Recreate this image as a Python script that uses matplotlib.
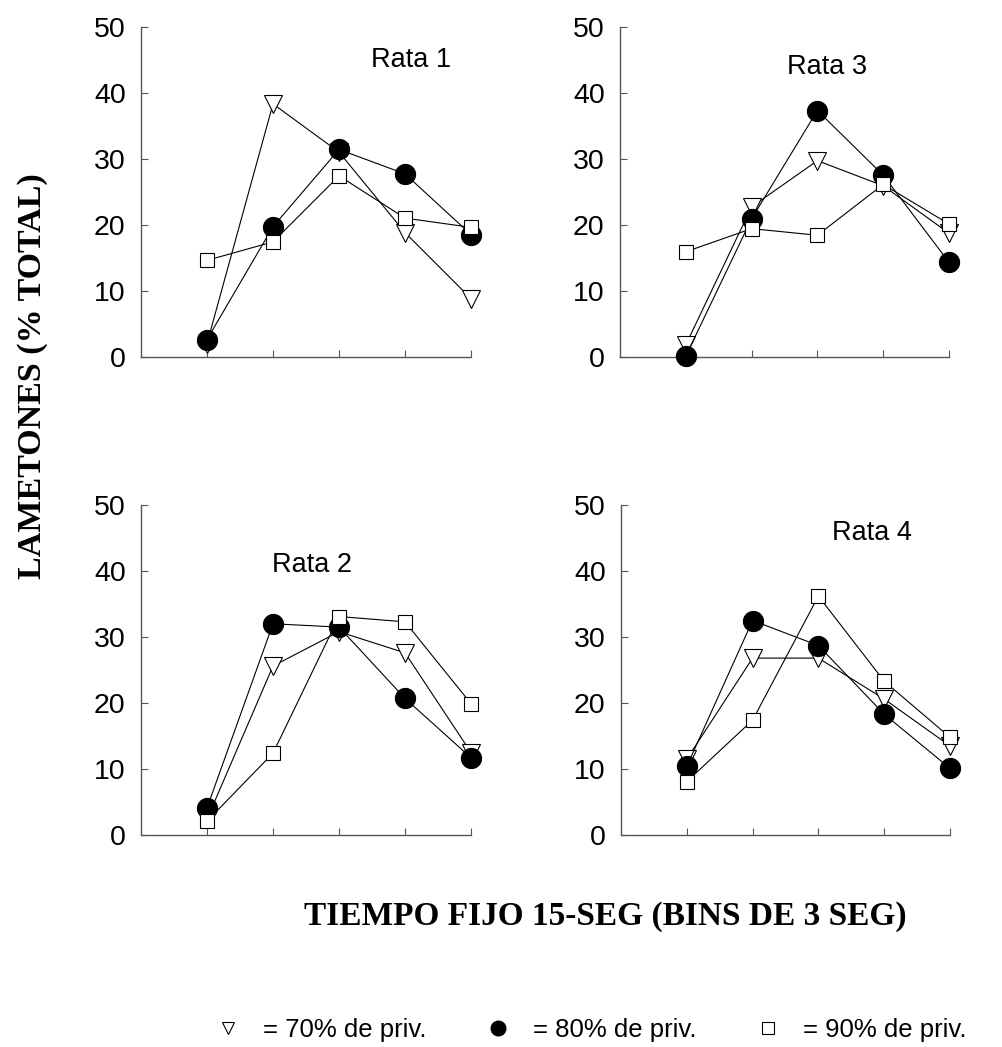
import matplotlib
matplotlib.use("Agg")
import matplotlib.pyplot as plt
from matplotlib.lines import Line2D

bins = [1, 2, 3, 4, 5]
yticks = [0, 10, 20, 30, 40, 50]

# Rata 1
r1_70 = [2.0, 38.3, 31.0, 18.8, 8.8]
r1_80 = [2.6, 19.7, 31.4, 27.7, 18.5]
r1_90 = [14.6, 17.4, 27.4, 21.0, 19.6]
# Rata 3
r3_70 = [1.8, 22.7, 29.7, 25.9, 18.7]
r3_80 = [0.1, 20.9, 37.3, 27.5, 14.3]
r3_90 = [15.9, 19.4, 18.4, 26.1, 20.1]
# Rata 2
r2_70 = [2.4, 25.6, 30.8, 27.6, 12.5]
r2_80 = [4.1, 32.0, 31.5, 20.7, 11.7]
r2_90 = [2.1, 12.4, 33.1, 32.3, 19.9]
# Rata 4
r4_70 = [11.5, 26.8, 26.8, 20.6, 13.5]
r4_80 = [10.4, 32.5, 28.7, 18.3, 10.1]
r4_90 = [8.1, 17.4, 36.2, 23.3, 14.8]

titles = ["Rata 1", "Rata 3", "Rata 2", "Rata 4"]
title_pos = [(4.09, 45.0), (3.15, 43.9), (2.59, 40.9), (3.82, 45.8)]
series = [(r1_70, r1_80, r1_90), (r3_70, r3_80, r3_90),
          (r2_70, r2_80, r2_90), (r4_70, r4_80, r4_90)]
legend_labels = ["= 70% de priv.", "= 80% de priv.", "= 90% de priv."]

W, H = 1003, 1047
fig = plt.figure(figsize=(W / 100, H / 100), dpi=100)

def rect(left, top, right, bottom):
    return [left / W, 1 - bottom / H, (right - left) / W, (bottom - top) / H]

rects = [rect(141, 26.7, 471, 356.7), rect(620, 26.7, 949, 356.7),
         rect(141, 505, 471, 835), rect(621, 505, 950, 835)]

sans = "Liberation Sans"
serif = "Liberation Serif"
spine_col = "#555555"

for r, (s70, s80, s90), t, tp in zip(rects, series, titles, title_pos):
    ax = fig.add_axes(r)
    ax.plot(bins, s70, color="black", lw=0.8, marker="v", ms=12.5,
            mfc="white", mec="black", mew=0.8, zorder=3)
    ax.plot(bins, s80, color="black", lw=0.8, marker="o", ms=14.5,
            mfc="black", mec="black", mew=0.8, zorder=4)
    ax.plot(bins, s90, color="black", lw=0.8, marker="s", ms=9.8,
            mfc="white", mec="black", mew=0.8, zorder=5)
    ax.set_xlim(0, 5)
    ax.set_ylim(0, 50)
    ax.set_xticks(bins)
    ax.set_xticklabels([])
    ax.set_yticks(yticks)
    ax.set_yticklabels([str(v) for v in yticks], fontfamily=sans, fontsize=20.5)
    ax.tick_params(direction="in", length=5, width=0.8, color=spine_col)
    ax.tick_params(axis="y", pad=11)
    for sp in ("top", "right"):
        ax.spines[sp].set_visible(False)
    for sp in ("left", "bottom"):
        ax.spines[sp].set_color(spine_col)
        ax.spines[sp].set_linewidth(1.0)
    ax.text(tp[0], tp[1], t, fontfamily=sans, fontsize=19.5, ha="center", va="center")
    for ln in ax.lines:
        ln.set_clip_on(False)

fig.text(33 / W, 1 - 376 / H, "LAMETONES (% TOTAL)", rotation=90, fontfamily=serif,
         fontweight="bold", fontsize=24.5, ha="center", va="center")
fig.text(605 / W, 1 - 916 / H, "TIEMPO FIJO 15-SEG (BINS DE 3 SEG)", fontfamily=serif,
         fontweight="bold", fontsize=24, ha="center", va="center")

handles = [
    Line2D([], [], ls="none", marker="v", ms=9, mfc="white", mec="black", mew=0.8),
    Line2D([], [], ls="none", marker="o", ms=10.5, mfc="black", mec="black"),
    Line2D([], [], ls="none", marker="s", ms=8, mfc="white", mec="black", mew=0.8),
]
fig.legend(handles, legend_labels, loc="center", bbox_to_anchor=(591 / W, 1 - 1030 / H),
           ncol=3, frameon=False, prop={"family": sans, "size": 18.5},
           handlelength=1.0, handletextpad=0.85, columnspacing=2.3,
           borderpad=0, borderaxespad=0)

fig.savefig("out.png", dpi=100)
